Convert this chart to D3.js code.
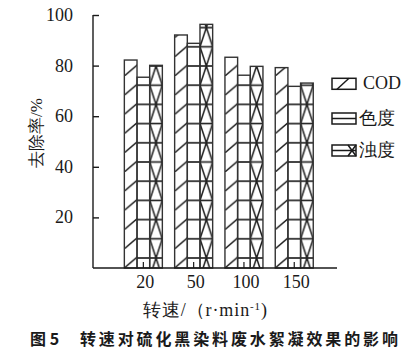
<!DOCTYPE html>
<html><head><meta charset="utf-8">
<script src="https://cdn.jsdelivr.net/npm/d3@7/dist/d3.min.js"></script>
<style>html,body{margin:0;padding:0;background:#fff;}svg{display:block;}</style>
</head><body>
<svg id="c" width="419" height="356"></svg>
<script>
const categories = ["20", "50", "100", "150"];
const seriesNames = ["COD", "色度", "浊度"];
const codValues = [82.2, 92.1, 83.3, 79.2];
const colorValues = [75.4, 88.8, 76.2, 71.8];
const turbidityValues = [80.1, 96.3, 79.7, 73.1];
const yTickValues = [20, 40, 60, 80, 100];
const yTitle = "去除率/%";
const caption1 = "图 5";
const caption2 = "转速对硫化黑染料废水絮凝效果的影响";

const seriesValues = [codValues, colorValues, turbidityValues];
const svg = d3.select("#c");
const serif = "Liberation Serif";
const ink = "#1a1a1a";

const y = d3.scaleLinear().domain([0, 100]).range([268, 15]);
const x0 = d3.scaleBand().domain(categories).range([118.2, 319.4]).padding(0);
const x1 = d3.scaleBand().domain(seriesNames).range([-19, 19]).padding(0);
const bw = x1.bandwidth();
const period = 19.2;

const rows = [];
categories.forEach((c, i) => seriesNames.forEach((s, j) => rows.push({c, s, j, v: seriesValues[j][i], id: "p" + i + "_" + j})));

const defs = svg.append("defs");
rows.forEach(d => {
  const bx = x0(d.c) + x0.bandwidth() / 2 + x1(d.s);
  d.x = bx;
  if (d.j === 0) {
    const p = defs.append("pattern").attr("id", d.id).attr("patternUnits", "userSpaceOnUse")
      .attr("x", bx).attr("y", y(0)).attr("width", bw).attr("height", period);
    p.append("line").attr("x1", -1).attr("y1", period + 0.8).attr("x2", bw + 1).attr("y2", period - 11.6)
      .attr("stroke", ink).attr("stroke-width", 1.5);
  } else if (d.j === 1) {
    const p = defs.append("pattern").attr("id", d.id).attr("patternUnits", "userSpaceOnUse")
      .attr("x", bx).attr("y", y(0) - 10).attr("width", bw).attr("height", period);
    p.append("line").attr("x1", 0).attr("y1", 0).attr("x2", bw).attr("y2", 0).attr("stroke", ink).attr("stroke-width", 1.6);
    p.append("line").attr("x1", 0).attr("y1", period).attr("x2", bw).attr("y2", period).attr("stroke", ink).attr("stroke-width", 1.6);
  } else {
    const h = period * 2;
    const p = defs.append("pattern").attr("id", d.id).attr("patternUnits", "userSpaceOnUse")
      .attr("x", bx).attr("y", y(0) - 10).attr("width", bw).attr("height", h);
    [0, period, h].forEach(yy => p.append("line").attr("x1", 0).attr("y1", yy).attr("x2", bw).attr("y2", yy)
      .attr("stroke", ink).attr("stroke-width", 1.6));
    p.append("path").attr("d", `M${bw/2},0L${bw},${period}L${bw/2},${h}L0,${period}Z`)
      .attr("fill", "none").attr("stroke", ink).attr("stroke-width", 1.5);
  }
});

// bars
svg.append("g").selectAll("rect").data(rows).join("rect")
  .attr("x", d => d.x).attr("y", d => y(d.v))
  .attr("width", bw).attr("height", d => y(0) - y(d.v))
  .attr("fill", d => `url(#${d.id})`)
  .attr("stroke", "#333").attr("stroke-width", 1.4);

// axes
const yAxis = svg.append("g").attr("transform", "translate(93,0)")
  .call(d3.axisRight(y).tickValues(yTickValues).tickSize(6).tickFormat(""));
yAxis.select(".domain").attr("d", `M0,${y(0)}V${y(100)}`).attr("stroke", ink).attr("stroke-width", 1.4);
yAxis.selectAll(".tick line").attr("stroke", ink).attr("stroke-width", 1.4);

svg.append("g").selectAll("text").data(yTickValues).join("text")
  .attr("x", 73).attr("y", d => y(d) + 6).attr("text-anchor", "end")
  .style("font-family", serif).attr("font-size", 18).attr("fill", ink).text(d => d);

const xAxis = svg.append("g").attr("transform", `translate(0,${y(0)})`)
  .call(d3.axisTop(x0).tickSize(6).tickFormat(""));
xAxis.select(".domain").attr("d", "M93,0H337").attr("stroke", ink).attr("stroke-width", 1.4);
xAxis.selectAll(".tick line").attr("stroke", ink).attr("stroke-width", 1.2);

svg.append("g").selectAll("text").data(categories).join("text")
  .attr("x", d => x0(d) + x0.bandwidth() / 2 + 2).attr("y", 288).attr("text-anchor", "middle")
  .style("font-family", serif).attr("font-size", 18).attr("fill", ink).text(d => d);

// axis titles
svg.append("text").attr("transform", "translate(42,133) rotate(-90)").attr("text-anchor", "middle")
  .style("font-family", serif).attr("font-size", 17).attr("fill", ink).text(yTitle);

const xt = svg.append("text").attr("x", 143).attr("y", 316)
  .style("font-family", serif).attr("font-size", 18).attr("fill", ink)
  .attr("textLength", 124).attr("lengthAdjust", "spacing");
xt.append("tspan").text("转速/（r·min");
xt.append("tspan").attr("dy", -6).attr("font-size", 11).text("-1");
xt.append("tspan").attr("dy", 6).text(")");

// legend
const legY = [78.3, 113, 145];
const lg = svg.append("g").selectAll("g").data(seriesNames).join("g")
  .attr("transform", (d, i) => `translate(332,${legY[i]})`);
lg.append("rect").attr("width", 24).attr("height", 11).attr("fill", "#fff").attr("stroke", ink).attr("stroke-width", 1.5);
lg.filter((d, i) => i === 0).append("line").attr("x1", 5).attr("y1", 11).attr("x2", 17).attr("y2", 0).attr("stroke", ink).attr("stroke-width", 1.5);
lg.filter((d, i) => i > 0).append("line").attr("x1", 0).attr("y1", 5.5).attr("x2", 24).attr("y2", 5.5).attr("stroke", ink).attr("stroke-width", 1.5);
lg.filter((d, i) => i === 2).append("path").attr("d", "M16,0L24,11M24,0L16,11").attr("stroke", ink).attr("stroke-width", 1.5);
lg.append("text").attr("x", (d, i) => i === 0 ? 31 : 27).attr("y", 11)
  .style("font-family", serif).attr("font-size", 18).attr("fill", ink).text(d => d);

// caption
svg.append("text").attr("x", 30).attr("y", 345).style("font-family", "Noto Sans CJK SC")
  .attr("font-weight", "bold").attr("font-size", 16).attr("fill", ink).text(caption1);
svg.append("text").attr("x", 80).attr("y", 345).style("font-family", "Noto Sans CJK SC")
  .attr("font-weight", "bold").attr("font-size", 16).attr("fill", ink)
  .attr("textLength", 318).attr("lengthAdjust", "spacing").text(caption2);
</script>
</body></html>
